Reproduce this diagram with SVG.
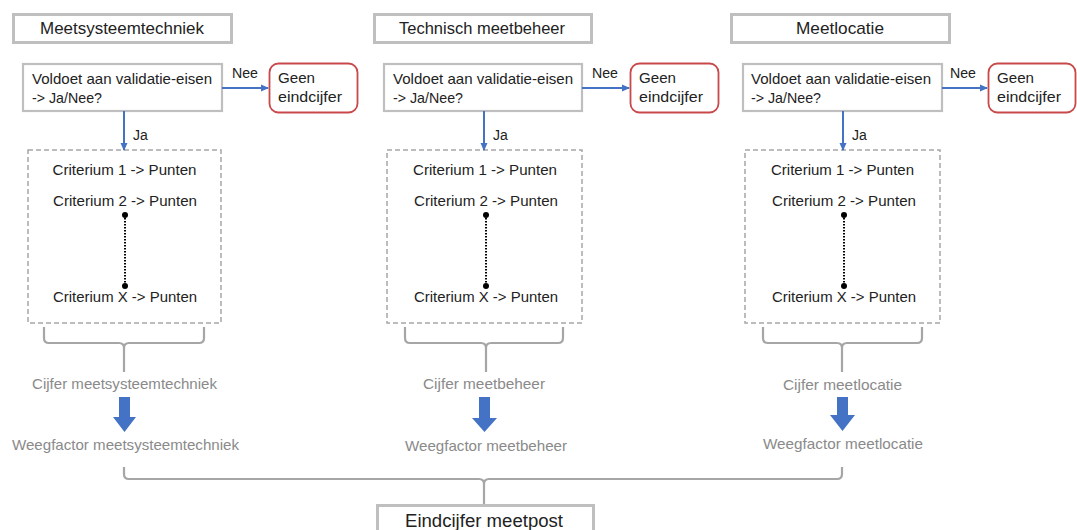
<svg xmlns="http://www.w3.org/2000/svg" width="1077" height="530" viewBox="0 0 1077 530">
<defs>
<style>
text{font-family:"Liberation Sans",Arial,sans-serif;fill:#222;font-size:15px}
.title{font-size:17px}
.final{font-size:18px}
.small{font-size:14px}
.gray{fill:#8a8a8a}
.tbox{fill:#fff;stroke:#bfbfbf;stroke-width:3}
.qbox{fill:#fff;stroke:#bfbfbf;stroke-width:2.2}
.rbox{fill:#fff;stroke:#c9484a;stroke-width:1.8}
.dbox{fill:none;stroke:#a6a6a6;stroke-width:1.5;stroke-dasharray:5,3}
.blue{fill:none;stroke:#4472c4;stroke-width:2}
.brace{fill:none;stroke:#a6a6a6;stroke-width:2.2}
.dots{fill:none;stroke:#000;stroke-width:2;stroke-dasharray:1.5,1.5}
.barrow{fill:#4472c4}
</style>
<marker id="ah" markerWidth="8" markerHeight="8" refX="7" refY="4" orient="auto" markerUnits="userSpaceOnUse">
<path d="M0,0.5 L8,4 L0,7.5 Z" fill="#4472c4"/>
</marker>
</defs>
<rect width="1077" height="530" fill="#fff"/>

<!-- Column 1 -->
<g id="title1"><rect class="tbox" x="13.5" y="14.5" width="218" height="28"/><text class="title" x="40" y="34" textLength="164" lengthAdjust="spacingAndGlyphs">Meetsysteemtechniek</text></g>
<g id="q1"><rect class="qbox" x="23" y="64" width="199" height="47"/><text x="32" y="84" textLength="180" lengthAdjust="spacingAndGlyphs">Voldoet aan validatie-eisen</text><text x="32" y="103" textLength="70" lengthAdjust="spacingAndGlyphs">-&gt; Ja/Nee?</text></g>
<g id="geen1"><rect class="rbox" x="269.5" y="63.5" width="88" height="49" rx="9"/><text x="278" y="83" textLength="37" lengthAdjust="spacingAndGlyphs">Geen</text><text x="278" y="102" textLength="64" lengthAdjust="spacingAndGlyphs">eindcijfer</text></g>
<g id="crit1"><rect class="dbox" x="28" y="150" width="193" height="173"/><text x="52.5" y="175" textLength="144" lengthAdjust="spacingAndGlyphs">Criterium 1 -&gt; Punten</text><text x="53" y="206" textLength="144" lengthAdjust="spacingAndGlyphs">Criterium 2 -&gt; Punten</text><text x="53" y="302" textLength="144" lengthAdjust="spacingAndGlyphs">Criterium X -&gt; Punten</text><line class="dots" x1="125" y1="215" x2="125" y2="286"/><circle cx="125" cy="215" r="3"/><circle cx="125" cy="286" r="3"/></g>
<g id="cijfer1"><text class="gray" x="32" y="389" textLength="185" lengthAdjust="spacingAndGlyphs">Cijfer meetsysteemtechniek</text></g>
<g id="weeg1"><text class="gray" x="12" y="450" textLength="227" lengthAdjust="spacingAndGlyphs">Weegfactor meetsysteemtechniek</text></g>

<!-- Column 2 -->
<g id="title2"><rect class="tbox" x="374.5" y="14.5" width="217" height="28"/><text class="title" x="399" y="34" textLength="166" lengthAdjust="spacingAndGlyphs">Technisch meetbeheer</text></g>
<g id="q2"><rect class="qbox" x="384" y="64" width="198" height="47"/><text x="393" y="84" textLength="180" lengthAdjust="spacingAndGlyphs">Voldoet aan validatie-eisen</text><text x="393" y="103" textLength="70" lengthAdjust="spacingAndGlyphs">-&gt; Ja/Nee?</text></g>
<g id="geen2"><rect class="rbox" x="630.5" y="63.5" width="88" height="49" rx="9"/><text x="639" y="83" textLength="37" lengthAdjust="spacingAndGlyphs">Geen</text><text x="639" y="102" textLength="64" lengthAdjust="spacingAndGlyphs">eindcijfer</text></g>
<g id="crit2"><rect class="dbox" x="387" y="150" width="195" height="173"/><text x="413" y="175" textLength="144" lengthAdjust="spacingAndGlyphs">Criterium 1 -&gt; Punten</text><text x="414" y="206" textLength="144" lengthAdjust="spacingAndGlyphs">Criterium 2 -&gt; Punten</text><text x="414" y="302" textLength="144" lengthAdjust="spacingAndGlyphs">Criterium X -&gt; Punten</text><line class="dots" x1="486" y1="215" x2="486" y2="286"/><circle cx="486" cy="215" r="3"/><circle cx="486" cy="286" r="3"/></g>
<g id="cijfer2"><text class="gray" x="423" y="389" textLength="122" lengthAdjust="spacingAndGlyphs">Cijfer meetbeheer</text></g>
<g id="weeg2"><text class="gray" x="405" y="451" textLength="162" lengthAdjust="spacingAndGlyphs">Weegfactor meetbeheer</text></g>

<!-- Column 3 -->
<g id="title3"><rect class="tbox" x="731.5" y="14.5" width="218" height="28"/><text class="title" x="796" y="34" textLength="88" lengthAdjust="spacingAndGlyphs">Meetlocatie</text></g>
<g id="q3"><rect class="qbox" x="743" y="64" width="199" height="47"/><text x="751" y="84" textLength="180" lengthAdjust="spacingAndGlyphs">Voldoet aan validatie-eisen</text><text x="751" y="103" textLength="70" lengthAdjust="spacingAndGlyphs">-&gt; Ja/Nee?</text></g>
<g id="geen3"><rect class="rbox" x="988.5" y="63.5" width="87" height="49" rx="9"/><text x="997" y="83" textLength="37" lengthAdjust="spacingAndGlyphs">Geen</text><text x="997" y="102" textLength="64" lengthAdjust="spacingAndGlyphs">eindcijfer</text></g>
<g id="crit3"><rect class="dbox" x="745" y="150" width="195" height="173"/><text x="771" y="175" textLength="143" lengthAdjust="spacingAndGlyphs">Criterium 1 -&gt; Punten</text><text x="772" y="206" textLength="144" lengthAdjust="spacingAndGlyphs">Criterium 2 -&gt; Punten</text><text x="772" y="302" textLength="144" lengthAdjust="spacingAndGlyphs">Criterium X -&gt; Punten</text><line class="dots" x1="844" y1="215" x2="844" y2="286"/><circle cx="844" cy="215" r="3"/><circle cx="844" cy="286" r="3"/></g>
<g id="cijfer3"><text class="gray" x="783" y="390" textLength="119" lengthAdjust="spacingAndGlyphs">Cijfer meetlocatie</text></g>
<g id="weeg3"><text class="gray" x="763" y="449" textLength="160" lengthAdjust="spacingAndGlyphs">Weegfactor meetlocatie</text></g>

<!-- Final -->
<g id="final"><rect class="tbox" x="377.5" y="505.5" width="216" height="40"/><text class="final" x="405" y="527" textLength="158" lengthAdjust="spacingAndGlyphs">Eindcijfer meetpost</text></g>

<!-- Connectors -->
<g id="connectors">
<line class="blue" x1="222" y1="88" x2="268" y2="88" marker-end="url(#ah)"/>
<line class="blue" x1="582" y1="88" x2="629" y2="88" marker-end="url(#ah)"/>
<line class="blue" x1="942" y1="88" x2="987" y2="88" marker-end="url(#ah)"/>
<line class="blue" x1="124" y1="111" x2="124" y2="150" marker-end="url(#ah)"/>
<line class="blue" x1="484" y1="111" x2="484" y2="150" marker-end="url(#ah)"/>
<line class="blue" x1="843" y1="111" x2="843" y2="150" marker-end="url(#ah)"/>
<text class="small" x="133" y="140">Ja</text>
<text class="small" x="493" y="140">Ja</text>
<text class="small" x="852" y="140">Ja</text>
<text x="232" y="78" textLength="26" lengthAdjust="spacingAndGlyphs">Nee</text>
<text x="592" y="78" textLength="26" lengthAdjust="spacingAndGlyphs">Nee</text>
<text x="950" y="78" textLength="26" lengthAdjust="spacingAndGlyphs">Nee</text>
<path class="brace" d="M44,327 V338 Q44,343 49,343 H119 Q124,343 124,348 V372 M204,327 V338 Q204,343 199,343 H129 Q124,343 124,348"/>
<path class="brace" d="M405,327 V338 Q405,343 410,343 H481 Q486,343 486,348 V372 M563,327 V338 Q563,343 558,343 H491 Q486,343 486,348"/>
<path class="brace" d="M763,327 V338 Q763,343 768,343 H837 Q842,343 842,348 V372 M922,327 V338 Q922,343 917,343 H847 Q842,343 842,348"/>
<path class="barrow" d="M119,397 H130 V417 H136 L124.5,432 L113,417 H119 Z"/>
<path class="barrow" d="M479,397 H490 V418 H497 L484.5,432 L472,418 H479 Z"/>
<path class="barrow" d="M837,397 H848 V415 H855 L842.5,431 L830,415 H837 Z"/>
<path class="brace" d="M124,467 V474 Q124,479 129,479 H479 Q484,479 484,484 V504 M842,467 V474 Q842,479 837,479 H489 Q484,479 484,484"/>
</g>
</svg>
